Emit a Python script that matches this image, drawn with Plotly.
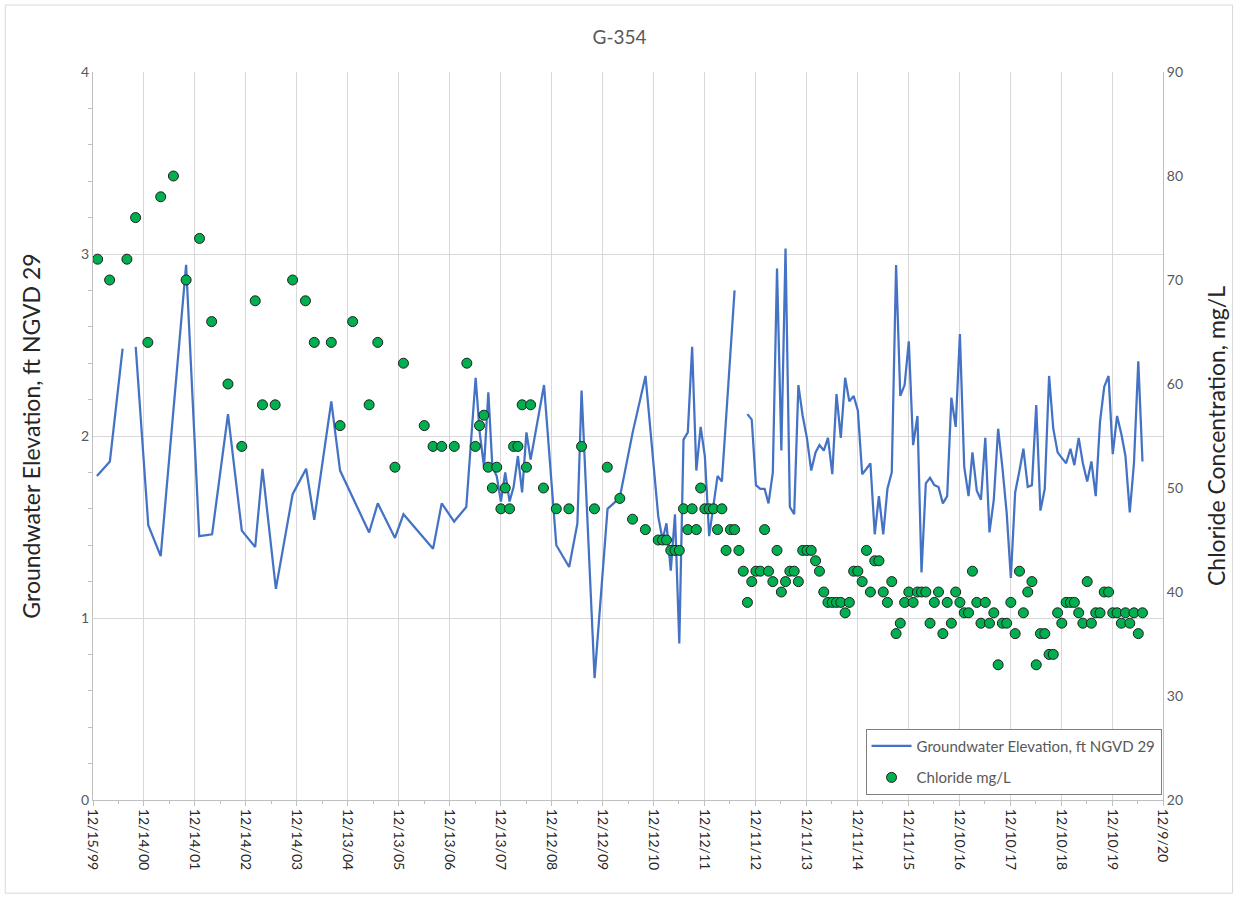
import pandas as pd
import plotly.graph_objects as go

# ---------------- data ----------------
tick_labels = ["12/15/99", "12/14/00", "12/14/01", "12/14/02", "12/14/03", "12/13/04",
               "12/13/05", "12/13/06", "12/13/07", "12/12/08", "12/12/09", "12/12/10",
               "12/12/11", "12/11/12", "12/11/13", "12/11/14", "12/11/15", "12/10/16",
               "12/10/17", "12/10/18", "12/10/19", "12/9/20"]

# Groundwater elevation, irregular readings (None = no reading, line breaks)
gw_dates_early = ["2000-01-12", "2000-04-14", "2000-07-14", "2000-08-30", "2000-10-16",
                  "2001-01-14", "2001-04-13", "2001-10-12", "2002-01-14", "2002-04-16",
                  "2002-08-08", "2002-11-15", "2003-02-19", "2003-04-12", "2003-07-17",
                  "2003-11-14", "2004-02-19", "2004-04-17", "2004-08-17", "2004-10-19",
                  "2005-05-15", "2005-07-16", "2005-11-16", "2006-01-16", "2006-08-16",
                  "2006-10-17", "2007-01-14", "2007-04-11", "2007-06-17", "2007-07-16",
                  "2007-08-16", "2007-09-16", "2007-10-15", "2007-11-15", "2007-12-15",
                  "2008-01-15", "2008-02-15", "2008-03-15", "2008-04-15", "2008-05-15",
                  "2008-06-15", "2008-07-15", "2008-10-19", "2009-01-15", "2009-04-17",
                  "2009-06-15", "2009-07-15", "2009-10-16", "2010-01-17", "2010-04-14",
                  "2010-07-16", "2010-10-16",
                  "2011-01-15", "2011-02-15", "2011-03-15", "2011-04-15", "2011-05-15",
                  "2011-06-15", "2011-07-15", "2011-08-15", "2011-09-15", "2011-10-15",
                  "2011-11-15", "2011-12-15", "2012-01-15", "2012-03-15", "2012-04-15",
                  "2012-07-15", "2012-08-31"]
gw_elev_early = [1.78, 1.86, 2.48, None, 2.49,
                 1.51, 1.34, 2.94, 1.45, 1.46,
                 2.12, 1.48, 1.39, 1.82, 1.16,
                 1.68, 1.82, 1.54, 2.19, 1.81,
                 1.47, 1.63, 1.44, 1.57, 1.38,
                 1.63, 1.53, 1.61, 2.32, 2.02,
                 1.83, 2.24, 1.83, 1.78, 1.64,
                 1.80, 1.64, 1.72, 1.89, 1.69,
                 2.02, 1.87, 2.28, 1.40, 1.28,
                 1.52, 2.25, 0.67, 1.60, 1.66,
                 2.02, 2.33,
                 1.56, 1.43, 1.52, 1.26, 1.57,
                 0.86, 1.98, 2.02, 2.49, 1.81,
                 2.05, 1.89, 1.45, 1.78, 1.75,
                 2.80, None]

# Groundwater elevation, monthly readings from October 2012
gw_monthly_start = "2012-10"
gw_elev_monthly = [2.12, 2.09, 1.73,
                   1.71, 1.71, 1.63, 1.80, 2.92, 1.92, 3.03, 1.61, 1.57, 2.28, 2.11, 1.99,
                   1.81, 1.91, 1.95, 1.92, 1.99, 1.79, 2.23, 1.99, 2.32, 2.19, 2.22, 2.14,
                   1.79, 1.82, 1.85, 1.46, 1.67, 1.46, 1.71, 1.80, 2.94, 2.22, 2.28, 2.52,
                   1.95, 2.11, 1.25, 1.74, 1.77, 1.73, 1.72, 1.63, 1.67, 2.21, 2.05, 2.56,
                   1.83, 1.67, 1.91, 1.70, 1.65, 1.99, 1.47, 1.65, 2.04, 1.83, 1.58, 1.22,
                   1.69, 1.81, 1.93, 1.72, 1.73, 2.17, 1.59, 1.71, 2.33, 2.04, 1.91, 1.88,
                   1.85, 1.93, 1.84, 1.99, 1.85, 1.75, 1.86, 1.67, 2.08, 2.27, 2.33, 1.90,
                   2.11, 2.01, 1.89, 1.58, 1.85, 2.41, 1.86]

# Chloride, quarterly / irregular samples up to 2010
cl_dates_early = ["2000-01-17", "2000-04-12", "2000-08-14", "2000-10-15", "2001-01-11",
                  "2001-04-13", "2001-07-13", "2001-10-12", "2002-01-16", "2002-04-13",
                  "2002-08-08", "2002-11-15", "2003-02-19", "2003-04-12", "2003-07-12",
                  "2003-11-14", "2004-02-14", "2004-04-17", "2004-08-17", "2004-10-19",
                  "2005-01-17", "2005-05-15", "2005-07-16", "2005-11-16", "2006-01-16",
                  "2006-06-14", "2006-08-16", "2006-10-17", "2007-01-15", "2007-04-15",
                  "2007-06-15", "2007-07-15", "2007-08-15", "2007-09-15", "2007-10-15",
                  "2007-11-15", "2007-12-15", "2008-01-15", "2008-02-15", "2008-03-15",
                  "2008-04-15", "2008-05-15", "2008-06-15", "2008-07-15", "2008-10-15",
                  "2009-01-15", "2009-04-15", "2009-07-15", "2009-10-15", "2010-01-15",
                  "2010-04-15", "2010-07-15", "2010-10-15"]
cl_early = [72, 70, 72, 76, 64, 78, 80, 70, 74, 66, 60, 54, 68, 58, 58, 70, 68, 64, 64, 56,
            66, 58, 64, 52, 62, 56, 54, 54, 54, 62, 54, 56, 57, 52, 50, 52, 48, 50, 48, 54,
            54, 58, 52, 58, 50, 48, 48, 54, 48, 52, 49, 47, 46]

# Chloride, monthly samples from January 2011
cl_monthly_start = "2011-01"
cl_monthly = [45, 45, 45, 44, 44, 44, 48, 46, 48, 46, 50, 48,
              48, 48, 46, 48, 44, 46, 46, 44, 42, 39, 41, 42,
              42, 46, 42, 41, 44, 40, 41, 42, 42, 41, 44, 44,
              44, 43, 42, 40, 39, 39, 39, 39, 38, 39, 42, 42,
              41, 44, 40, 43, 43, 40, 39, 41, 36, 37, 39, 40,
              39, 40, 40, 40, 37, 39, 40, 36, 39, 37, 40, 39,
              38, 38, 42, 39, 37, 39, 37, 38, 33, 37, 37, 39,
              36, 42, 38, 40, 41, 33, 36, 36, 34, 34, 38, 37,
              39, 39, 39, 38, 37, 41, 37, 38, 38, 40, 40, 38,
              38, 37, 38, 37, 38, 36, 38]


def mid_months(start, n):
    """Mid-month sample dates for n consecutive months."""
    return list(pd.date_range(start=start + "-01", periods=n, freq="MS") + pd.Timedelta(days=14))


gw_x = list(pd.to_datetime(gw_dates_early)) + mid_months(gw_monthly_start, len(gw_elev_monthly))
gw_y = gw_elev_early + gw_elev_monthly
cl_x = list(pd.to_datetime(cl_dates_early)) + mid_months(cl_monthly_start, len(cl_monthly))
cl_y = cl_early + cl_monthly

tick_dates = pd.to_datetime(tick_labels, format="%m/%d/%y")
minor_dates = [a + (b - a) / 2 for a, b in zip(tick_dates[:-1], tick_dates[1:])]

# ---------------- figure ----------------
FONT = "Lato, 'Liberation Sans', Arial, sans-serif"
TXT = "#595959"
GRID = "#D9D9D9"
AXIS = "#BFBFBF"

fig = go.Figure()
fig.add_trace(go.Scatter(
    x=gw_x, y=gw_y, mode="lines", name="Groundwater Elevation, ft NGVD 29",
    legendgroup="gw",
    line=dict(color="#4472C4", width=2.25), connectgaps=False, yaxis="y"))
fig.add_trace(go.Scatter(
    x=cl_x, y=cl_y, mode="markers", name="Chloride mg/L",
    legendgroup="cl",
    marker=dict(color="#00B050", size=10, line=dict(color="#1F1F1F", width=1)),
    yaxis="y2"))

fig.update_layout(
    width=1239, height=898,
    margin=dict(l=93, r=76, t=72, b=98),
    paper_bgcolor="white", plot_bgcolor="white",
    font=dict(family=FONT, color=TXT, size=13),
    title=dict(text="G-354", x=0.5, xanchor="center", y=0.958, yanchor="middle",
               font=dict(size=19, color=TXT)),
    showlegend=True,
    legend=dict(x=0.722, y=0.098, xanchor="left", yanchor="top",
                bgcolor="white", bordercolor="#7F7F7F", borderwidth=1,
                font=dict(size=15, color=TXT), tracegroupgap=9, itemwidth=40),
    xaxis=dict(
        type="date", range=[tick_dates[0], tick_dates[-1]],
        tickmode="array", tickvals=list(tick_dates), ticktext=tick_labels,
        tickangle=90, tickfont=dict(size=14, color="#262626"),
        showgrid=True, gridcolor=GRID, gridwidth=1,
        ticks="outside", ticklen=5, tickcolor=AXIS,
        showline=True, linecolor=AXIS, linewidth=1,
        minor=dict(tickmode="array", tickvals=minor_dates, ticks="outside",
                   ticklen=3, tickcolor=AXIS, showgrid=False),
        zeroline=False),
    yaxis=dict(
        range=[0, 4], dtick=1, tick0=0,
        title=dict(text="Groundwater Elevation, ft NGVD 29",
                   font=dict(size=23, color="#262626"), standoff=34),
        tickfont=dict(size=14, color=TXT),
        showgrid=True, gridcolor=GRID, gridwidth=1,
        showline=True, linecolor=AXIS, linewidth=1,
        ticks="", zeroline=False,
        minor=dict(dtick=0.2, tick0=0, ticks="outside", ticklen=4,
                   tickcolor=AXIS, showgrid=False)),
    yaxis2=dict(
        range=[20, 90], dtick=10, tick0=20, overlaying="y", side="right",
        title=dict(text="Chloride Concentration, mg/L",
                   font=dict(size=23, color="#262626"), standoff=26),
        tickfont=dict(size=14, color=TXT),
        showgrid=False, showline=True, linecolor=AXIS, linewidth=1,
        ticks="", zeroline=False),
)

# light frame around the whole chart
fig.add_shape(type="rect", xref="paper", yref="paper",
              x0=-0.082, x1=1.065, y0=-0.128, y1=1.092,
              line=dict(color=GRID, width=1), fillcolor="rgba(0,0,0,0)", layer="below")

fig.write_html("out.html")
